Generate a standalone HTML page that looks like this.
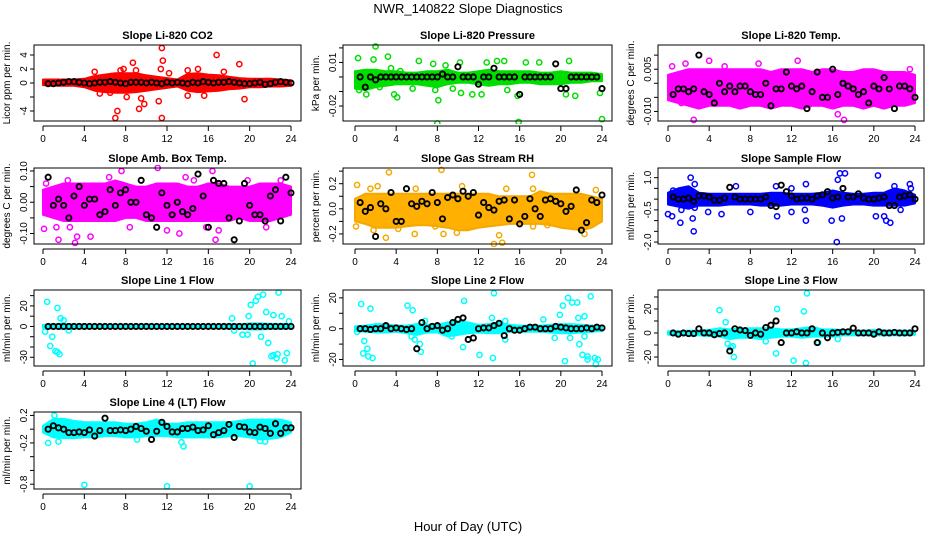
<!DOCTYPE html>
<html><head><meta charset="utf-8"><style>
html,body{margin:0;padding:0;background:#fff;}
svg{display:block;font-family:"Liberation Sans",Arial,sans-serif;}
</style></head><body>
<svg id="chart" width="936" height="540" viewBox="0 0 936 540">
<text x="468" y="13" text-anchor="middle" font-size="13">NWR_140822  Slope Diagnostics</text>
<text x="468" y="531" text-anchor="middle" font-size="13">Hour of Day (UTC)</text>
</svg>
<script>
const xTicks=[0,4,8,12,16,20,24];
const bandHours=[0,1,2,3,4,5,6,7,8,9,10,11,12,13,14,15,16,17,18,19,20,21,22,23,24];
const blackHours=[0.5,1,1.5,2,2.5,3,3.5,4,4.5,5,5.5,6,6.5,7,7.5,8,8.5,9,9.5,10,10.5,11,11.5,12,12.5,13,13.5,14,14.5,15,15.5,16,16.5,17,17.5,18,18.5,19,19.5,20,20.5,21,21.5,22,22.5,23,23.5,24];

// Panel 1 CO2
const co2Ticks=[4,2,0,-2,-4];
const co2Labels=["4","2","0","","-4"];
const co2Upper=[0.5,0.5,0.5,0.5,0.6,1.0,1.2,1.4,1.4,1.4,1.1,0.9,0.7,0.5,1.3,1.4,1.2,1.1,0.9,0.7,0.6,0.6,0.6,0.5,0.4];
const co2Lower=[-0.3,-0.4,-0.4,-0.4,-0.6,-1.1,-1.3,-1.4,-1.4,-1.3,-1.1,-0.9,-0.7,-0.5,-1.1,-1.3,-1.2,-1.1,-0.9,-0.8,-0.6,-0.6,-0.5,-0.5,-0.4];
const co2Out=[[5,1.6],[7,-5],[7.2,-4],[7.5,1.8],[7.8,2],[8.1,-2],[8.7,2.9],[9,1.8],[9.3,-3.7],[9.5,-2.2],[9.8,-3],[11.2,-2.6],[11.5,5],[11.6,3.2],[11.5,-5],[11.4,2],[14,1.8],[14,-1.8],[15,2],[15.6,-1.8],[16.8,4],[19,2.7],[19.5,-2.3],[17.5,1.6],[5.5,-1.5],[6.5,-1.4],[12.2,1.4]];
const co2Black=[-0.1,-0.1,0,0.1,0.2,0.2,0.1,0,-0.1,0,0.1,0.1,0.2,0.1,0,-0.1,0.1,0.1,0.1,0,0.1,0,-0.1,0.1,0,0.1,0,-0.1,0.1,0,0.2,0.1,0,0.1,0.1,0.2,0.1,0,-0.1,-0.1,0,0.1,-0.2,-0.1,0.1,0.2,0.1,0];

// Panel 2 Pressure
const presTicks=[0.02,0.01,0,-0.01,-0.02];
const presLabels=["","0.01","","","-0.02"];
const presUpper=[0.004,0.005,0.005,0.004,0.004,0.003,0.003,0.004,0.004,0.005,0.003,0.003,0.004,0.005,0.004,0.004,0.004,0.004,0.003,0.003,0.004,0.003,0.003,0.003,0.002];
const presLower=[-0.008,-0.009,-0.007,-0.006,-0.005,-0.005,-0.005,-0.006,-0.007,-0.005,-0.004,-0.004,-0.005,-0.006,-0.005,-0.005,-0.004,-0.004,-0.005,-0.005,-0.005,-0.004,-0.004,-0.003,-0.003];
const presOut=[[0.3,0.013],[0.4,-0.009],[1.1,-0.012],[1.8,0.012],[2,0.021],[2.4,-0.007],[3.2,0.014],[3.5,0.006],[3.8,-0.012],[4.1,-0.014],[4.4,0.004],[5.6,-0.008],[6.2,0.011],[7.6,0.009],[7.8,-0.009],[8,-0.032],[8.1,-0.016],[8.8,0.008],[9.5,-0.008],[10.2,0.010],[10.3,-0.011],[11.4,-0.012],[12.3,-0.012],[12.8,0.010],[13.8,0.011],[14.5,0.011],[14.8,-0.009],[15.8,-0.013],[15.9,-0.031],[16.6,0.010],[17.9,0.010],[20.5,-0.012],[20.8,0.011],[21.4,-0.013],[23.8,-0.011],[24,-0.029]];
const presBlack=[0,-0.007,0,-0.002,0,0,0,0,0,0,0,0,0,0,0,0,0.002,0,0,0.007,0,0,0,-0.005,0,0,0.006,0,0,0,0,-0.012,0,0,0,0,0,0,0.009,-0.008,-0.008,0,0,0,0,0,0,-0.008];

// Panel 3 Li-820 Temp
const tempTicks=[0.01,0.005,0,-0.005,-0.01];
const tempLabels=["","0.005","","","-0.010"];
const tempUpper=[0.003,0.004,0.005,0.005,0.005,0.005,0.005,0.005,0.005,0.005,0.004,0.005,0.005,0.005,0.004,0.005,0.005,0.004,0.004,0.005,0.005,0.004,0.004,0.004,0.003];
const tempLower=[-0.006,-0.007,-0.008,-0.009,-0.008,-0.008,-0.008,-0.009,-0.008,-0.008,-0.009,-0.008,-0.008,-0.009,-0.008,-0.008,-0.009,-0.008,-0.008,-0.009,-0.008,-0.009,-0.008,-0.008,-0.007];
const tempOut=[[0.4,0.006],[1.3,-0.007],[1.7,0.007],[2.5,-0.013],[3.2,-0.007],[4,0.008],[5.5,0.006],[7.2,-0.006],[8.8,0.007],[10.8,-0.006],[11.7,-0.007],[12.6,0.008],[16.5,-0.011],[16.8,-0.005],[17.1,-0.013],[18.4,-0.007],[20.8,-0.008],[23.5,0.005]];
const tempBlack=[-0.004,-0.002,-0.002,-0.003,-0.002,0.01,-0.003,-0.004,-0.007,0.000,-0.003,-0.001,-0.003,-0.001,-0.001,-0.003,-0.004,-0.004,0.000,-0.008,-0.002,-0.002,0.004,-0.001,-0.002,-0.001,-0.009,-0.003,0.004,-0.005,-0.005,0.005,-0.004,0.000,-0.001,-0.002,-0.004,-0.003,-0.007,-0.001,-0.002,0.002,-0.002,-0.009,-0.001,-0.001,-0.002,-0.005];

// Panel 4 Amb Box Temp
const ambTicks=[0.1,0.05,0,-0.05,-0.1];
const ambLabels=["0.10","","0.00","","-0.10"];
const ambUpper=[0.04,0.05,0.06,0.06,0.06,0.06,0.06,0.07,0.06,0.05,0.05,0.06,0.06,0.06,0.05,0.05,0.06,0.06,0.05,0.05,0.05,0.06,0.06,0.06,0.05];
const ambLower=[-0.04,-0.05,-0.06,-0.06,-0.06,-0.06,-0.06,-0.06,-0.05,-0.05,-0.06,-0.06,-0.06,-0.06,-0.06,-0.06,-0.06,-0.06,-0.06,-0.05,-0.06,-0.06,-0.06,-0.05,-0.04];
const ambOut=[[0.1,-0.085],[0.3,0.06],[1.3,-0.08],[1.5,-0.12],[2.4,0.07],[2.6,-0.08],[3.1,-0.13],[3.3,-0.11],[4.6,-0.11],[6.4,0.08],[7.6,0.1],[8.4,-0.08],[11.1,0.11],[12,-0.09],[13.2,-0.1],[13.8,0.08],[14.6,0.07],[15.8,-0.08],[16.4,0.1],[16.7,-0.12],[17,-0.09],[19.8,0.07],[21.6,-0.08],[23,0.07]];
const ambBlack=[0.08,-0.01,0.01,-0.01,-0.05,0.02,0.05,-0.01,0.01,0.01,-0.04,-0.03,0.04,-0.01,0.03,0.04,0,0,0.07,-0.04,-0.05,-0.08,0.03,-0.01,-0.04,0,-0.03,-0.04,-0.02,0.09,0.02,-0.08,0.07,0.06,0.06,-0.05,-0.12,-0.06,0.06,-0.01,-0.04,-0.04,-0.06,0.02,0.04,-0.06,0.08,0.03];

// Panel 5 Gas Stream RH
const rhTicks=[0.3,0.2,0.1,0,-0.1,-0.2];
const rhLabels=["","0.2","","0.0","","-0.2"];
const rhUpper=[0.08,0.12,0.12,0.12,0.12,0.12,0.12,0.12,0.12,0.12,0.12,0.12,0.12,0.12,0.1,0.1,0.1,0.1,0.14,0.12,0.12,0.12,0.12,0.1,0.08];
const rhLower=[-0.1,-0.12,-0.15,-0.15,-0.15,-0.14,-0.13,-0.13,-0.14,-0.15,-0.17,-0.17,-0.15,-0.14,-0.13,-0.12,-0.12,-0.12,-0.12,-0.13,-0.15,-0.16,-0.17,-0.15,-0.1];
const rhOut=[[0.2,0.19],[0.1,-0.14],[1.5,0.16],[1.8,-0.17],[2.2,0.18],[3,-0.23],[3.3,0.29],[4.2,-0.16],[5.8,-0.2],[5.9,0.16],[7.8,-0.14],[8.4,0.31],[8.6,-0.2],[9.9,-0.19],[10.4,0.18],[13.5,-0.28],[14,-0.21],[14.3,-0.27],[14.7,0.16],[17.2,0.27],[17.3,0.16],[17.3,-0.14],[18.7,-0.13],[22.3,-0.2],[23.4,0.15]];
const rhBlack=[0.05,-0.02,0.01,-0.22,0.04,0.0,0.13,-0.1,-0.1,0.16,0.04,0.02,0.06,0.04,0.13,0.05,-0.08,0.09,0.11,0.08,0.14,0.1,0.13,-0.05,0.05,0.01,-0.01,0.06,0.07,-0.08,0.07,-0.12,-0.06,0.08,0.0,-0.06,0.07,0.08,0.06,0.04,-0.02,0.02,0.15,-0.17,-0.11,0.07,0.05,0.11];

// Panel 6 Sample Flow
const flowTicks=[1.0,0.5,0,-0.5,-1.0,-1.5,-2.0];
const flowLabels=["1.0","","","-0.5","","","-2.0"];
const flowUpper=[0.3,0.5,0.6,0.3,0.25,0.25,0.25,0.25,0.25,0.25,0.3,0.3,0.25,0.25,0.25,0.3,0.4,0.3,0.25,0.25,0.3,0.3,0.5,0.4,0.2];
const flowLower=[-0.25,-0.35,-0.45,-0.3,-0.3,-0.3,-0.25,-0.25,-0.25,-0.3,-0.3,-0.3,-0.25,-0.25,-0.25,-0.3,-0.4,-0.3,-0.25,-0.25,-0.3,-0.3,-0.3,-0.3,-0.2];
const flowOut=[[0,-0.7],[0.4,-0.8],[0.5,0.4],[1.2,-1.1],[1.3,-0.5],[2.2,1.0],[2.4,-0.9],[2.5,-1.5],[2.6,0.7],[2.6,-0.4],[3.9,-0.6],[5.2,-0.7],[6.6,0.6],[8,-0.6],[10.6,-0.8],[10.5,0.6],[12,0.5],[12,-0.6],[13.3,-0.5],[13.4,-1.0],[13.4,0.7],[15.9,-1.0],[16.4,-2.0],[16.5,0.9],[16.7,1.2],[16.9,-0.9],[17.2,1.2],[20.2,-0.8],[20.4,1.1],[21,-0.8],[21.2,-1.0],[21.6,-1.1],[22,0.6],[22.6,-0.5],[23.5,0.7],[23.6,0.5]];
const flowBlack=[0.1,0.0,0.0,0.05,-0.1,0.15,0.15,0.1,-0.05,-0.05,0.05,0.55,0.1,0.0,0.0,0.0,0.0,0.0,0.1,-0.3,-0.35,0.65,0.35,0.15,0.0,0.05,0.05,0.0,0.15,0.2,0.35,0.05,0.1,0.5,0.1,0.1,0.25,0.05,0.0,0.0,0.05,0.1,-0.3,-0.3,0.1,0.15,0.2,0.0];

// Panel 7 Line 1 Flow
const l1Ticks=[30,20,10,0,-10,-20,-30];
const l1Labels=["","20","","0","","","-30"];
const l1Upper=[1.5,2,2.5,2,2,1.5,1.5,1.5,1.5,1.5,2,1.5,1.5,1.5,1.5,1.5,1.5,1.5,2,2,3,3,2.5,2.5,2];
const l1Lower=[-1.5,-2,-2.5,-2,-2,-1.5,-1.5,-1.5,-1.5,-1.5,-1.5,-1.5,-1.5,-1.5,-1.5,-1.5,-1.5,-1.5,-2,-2,-3,-3,-2.5,-2.5,-2];
const l1Out=[[0.2,-5],[0.4,24],[0.7,-19],[0.9,-10],[1.2,-24],[1.4,-25],[1.6,-27],[1.4,18],[1.7,8],[2,6],[2.5,-4],[18.3,8],[18.5,-4],[19.3,-8],[19.8,-8],[19.9,10],[20.1,21],[20.3,-36],[20.6,25],[20.8,29],[21.1,-10],[21.3,31],[21.6,14],[21.8,-16],[22.1,-29],[22.3,-28],[22.3,11],[22.6,-31],[22.7,-27],[22.8,33],[23.1,10],[23.4,-33],[23.6,-26],[23.8,5]];
const l1Black=[0,0,0,0,0,0,0,0,0,0,0,0,0,0,0,0,0,0,0,0,0,0,0,0,0,0,0,0,0,0,0,0,0,0,0,0,0,0,0,0,0,0,0,0,0,0,0,0];

// Panel 8 Line 2 Flow
const l2Ticks=[20,10,0,-10,-20];
const l2Labels=["20","","0","","-20"];
const l2Upper=[1.5,2,3,3,2,2,3,2.5,2.5,4,5,4,2.5,3,4,2.5,2,2,2,2.5,3,3,2.5,2,1.5];
const l2Lower=[-1.5,-2,-2.5,-2.5,-2,-3,-4,-2.5,-2.5,-5,-4,-3,-2.5,-3,-3,-2,-2,-2,-2,-2.5,-3,-3,-2.5,-2,-1.5];
const l2Out=[[0.2,-2],[0.6,16],[0.8,-16],[0.9,-8],[1.2,-13],[1.3,-18],[1.5,13],[1.7,-19],[5.1,15],[5.5,-5],[5.6,12],[5.8,-7],[6.3,-10],[6.4,-15],[6.8,5],[9.4,-5],[10.5,-12],[10.6,18],[12.1,-17],[13.3,7],[13.4,-19],[13.5,23],[14.6,5],[14.6,-7],[18.3,6],[19.4,-6],[19.9,9],[20.2,15],[20.4,-21],[20.7,20],[20.9,-6],[21.1,17],[21.6,17],[21.7,7],[21.8,-10],[22.1,-17],[22.3,8],[22.3,-5],[22.6,-18],[22.6,-20],[22.9,21],[23.3,-19],[23.4,-23],[23.6,-20]];
const l2Black=[0,0,-0.5,0,0,2,0,0.5,0,-0.5,0,-13,4,0,1.5,2,-1,0,4,6,7,-7,-6,0,0.5,0.5,2,3.5,-4.5,0,-1,-1,0,1,1,0,0,0,1.5,1,0.5,0,0,0,0.5,0,1,0.5];

// Panel 9 Line 3 Flow
const l3Ticks=[30,20,10,0,-10,-20];
const l3Labels=["","20","","0","","-20"];
const l3Upper=[1.5,1.5,2,2,2.5,4,3,3.5,4,4,4,3,3,4,5,3,3,2.5,2,2,2.5,2,2,2,1.5];
const l3Lower=[-1.5,-1.5,-2,-2,-2.5,-3,-5,-4,-4,-5,-4,-3,-3,-4,-3,-3,-3,-2,-2,-2,-2,-2,-2,-2,-1.5];
const l3Out=[[5,19],[5.6,9],[5.8,-9],[6.1,-12],[6.3,-11],[6.4,-20],[9.5,-7],[10.6,20],[10.5,-17],[12.2,-23],[13.2,18],[13.4,-25],[13.5,33],[14.6,-8],[16.5,-5]];
const l3Black=[0,-1,0,-0.5,-0.5,3.5,0,0,-1.5,-0.5,0,-15,3.5,2.5,2,-2,0,-1,4.5,6.5,10,-8,0,0,1,0,0,3.5,-8,0,-4,0,0.5,1,1,4,0,0,0,-1,1,0,0,0.5,0,0,0,3.5];

// Panel 10 Line 4 (LT) Flow
const l4Ticks=[0.2,0,-0.2,-0.4,-0.6,-0.8];
const l4Labels=["0.2","","-0.2","","","-0.8"];
const l4Upper=[0.05,0.15,0.15,0.12,0.1,0.1,0.1,0.1,0.08,0.08,0.1,0.14,0.08,0.08,0.1,0.1,0.1,0.1,0.1,0.12,0.14,0.14,0.14,0.14,0.1];
const l4Lower=[-0.05,-0.12,-0.13,-0.13,-0.12,-0.12,-0.1,-0.1,-0.12,-0.12,-0.1,-0.1,-0.1,-0.12,-0.12,-0.12,-0.12,-0.12,-0.1,-0.1,-0.12,-0.15,-0.14,-0.12,-0.05];
const l4Out=[[0.5,-0.2],[1.1,0.2],[1.5,-0.18],[4,-0.81],[9.1,-0.15],[12,-0.83],[13.4,-0.19],[13.6,-0.25],[20,-0.83],[21,-0.17],[21.5,-0.18]];
const l4Black=[0,0.05,0.02,0,-0.05,-0.05,-0.04,-0.05,-0.01,-0.1,-0.02,0.16,-0.02,-0.02,-0.01,-0.02,0,0.04,0.01,-0.03,-0.15,-0.03,0.1,0.04,-0.04,-0.04,0.01,0.01,0.03,-0.02,-0.01,0.05,-0.08,-0.05,-0.02,0.07,-0.12,0.04,0.03,-0.04,-0.05,0.03,0.01,-0.06,0.08,-0.06,0.02,0.02];

const panels=[
 {name:"co2",title:"Slope Li-820 CO2",ylab:"Licor ppm per min.",ticks:co2Ticks,labels:co2Labels,up:co2Upper,lo:co2Lower,out:co2Out,blk:co2Black,col:"#ff0000",ymin:-5.43,ymax:5.43,L:34,R:301,T:45,B:121,x0:43,x1:291},
 {name:"pressure",title:"Slope Li-820 Pressure",ylab:"kPa per min.",ticks:presTicks,labels:presLabels,up:presUpper,lo:presLower,out:presOut,blk:presBlack,col:"#00dd00",ymin:-0.0303,ymax:0.022,L:343,R:612,T:45,B:121,x0:355,x1:602},
 {name:"li820-temp",title:"Slope Li-820 Temp.",ylab:"degrees C per min.",ticks:tempTicks,labels:tempLabels,up:tempUpper,lo:tempLower,out:tempOut,blk:tempBlack,col:"#ff00ff",ymin:-0.0134,ymax:0.0136,L:658,R:924,T:45,B:121,x0:668,x1:915},
 {name:"amb-box-temp",title:"Slope Amb. Box Temp.",ylab:"degrees C per min.",ticks:ambTicks,labels:ambLabels,up:ambUpper,lo:ambLower,out:ambOut,blk:ambBlack,col:"#ff00ff",ymin:-0.1335,ymax:0.1095,L:34,R:301,T:168,B:244,x0:43,x1:291},
 {name:"gas-stream-rh",title:"Slope Gas Stream RH",ylab:"percent per min.",ticks:rhTicks,labels:rhLabels,up:rhUpper,lo:rhLower,out:rhOut,blk:rhBlack,col:"#f5a800",ymin:-0.28,ymax:0.325,L:343,R:612,T:168,B:244,x0:355,x1:602},
 {name:"sample-flow",title:"Slope Sample Flow",ylab:"ml/min per min.",ticks:flowTicks,labels:flowLabels,up:flowUpper,lo:flowLower,out:flowOut,blk:flowBlack,col:"#0000ff",ymin:-2.09,ymax:1.45,L:658,R:924,T:168,B:244,x0:668,x1:915},
 {name:"line1-flow",title:"Slope Line 1 Flow",ylab:"ml/min per min.",ticks:l1Ticks,labels:l1Labels,up:l1Upper,lo:l1Lower,out:l1Out,blk:l1Black,col:"#00ffff",ymin:-38.5,ymax:35.5,L:34,R:301,T:290,B:366,x0:43,x1:291},
 {name:"line2-flow",title:"Slope Line 2 Flow",ylab:"ml/min per min.",ticks:l2Ticks,labels:l2Labels,up:l2Upper,lo:l2Lower,out:l2Out,blk:l2Black,col:"#00ffff",ymin:-24.2,ymax:25.1,L:343,R:612,T:290,B:366,x0:355,x1:602},
 {name:"line3-flow",title:"Slope Line 3 Flow",ylab:"ml/min per min.",ticks:l3Ticks,labels:l3Labels,up:l3Upper,lo:l3Lower,out:l3Out,blk:l3Black,col:"#00ffff",ymin:-27.5,ymax:35.8,L:658,R:924,T:290,B:366,x0:668,x1:915},
 {name:"line4-flow",title:"Slope Line 4 (LT) Flow",ylab:"ml/min per min.",ticks:l4Ticks,labels:l4Labels,up:l4Upper,lo:l4Lower,out:l4Out,blk:l4Black,col:"#00ffff",ymin:-0.87,ymax:0.25,L:34,R:301,T:412,B:489,x0:43,x1:291}
];

const NS="http://www.w3.org/2000/svg";
const svg=document.getElementById("chart");
function mk(tag,attrs,parent){const e=document.createElementNS(NS,tag);for(const k in attrs)e.setAttribute(k,attrs[k]);(parent||svg).appendChild(e);return e;}

panels.forEach((p,pi)=>{
 const g=mk("g",{});
 
 
 const xs=h=>p.x0+(h/24)*(p.x1-p.x0);
 const ys=v=>p.B-(v-p.ymin)/(p.ymax-p.ymin)*(p.B-p.T);
 const cid="clip"+pi;
 const cp=mk("clipPath",{id:cid},g);
 mk("rect",{x:p.L-3,y:p.T-3,width:p.R-p.L+6,height:p.B-p.T+6},cp);
 const pts=mk("g",{"clip-path":"url(#"+cid+")"},g);
 let d="";
 bandHours.forEach((h,i)=>{d+=(i?"L":"M")+xs(h).toFixed(1)+","+ys(p.up[i]).toFixed(1);});
 for(let i=bandHours.length-1;i>=0;i--){d+="L"+xs(bandHours[i]).toFixed(1)+","+ys(p.lo[i]).toFixed(1);}
 const band=mk("path",{d:d+"Z",fill:p.col,stroke:p.col,"stroke-width":2,"stroke-linejoin":"round"},pts);
 
 
 if(p.name==="gas-stream-rh"){band.setAttribute('fill','#ffb000');}
 p.out.forEach(o=>{
  const c=mk("circle",{cx:xs(o[0]),cy:ys(o[1]),r:2.6,fill:"none",stroke:p.col,"stroke-width":1.5},pts);
  
  
 });
 blackHours.forEach((h,i)=>{
  const c=mk("circle",{cx:xs(h),cy:ys(p.blk[i]),r:2.6,fill:"none",stroke:"#000","stroke-width":1.9},pts);
  
  
 });
 const box=mk("rect",{x:p.L,y:p.T,width:p.R-p.L,height:p.B-p.T,fill:"none",stroke:"#000","stroke-width":1},g);
 
 
 const ax=mk("g",{},g);
 
 
 mk("line",{x1:xs(0),x2:xs(24),y1:p.B+5,y2:p.B+5,stroke:"#000"},ax);
 xTicks.forEach(t=>{
  mk("line",{x1:xs(t),x2:xs(t),y1:p.B+5,y2:p.B+10,stroke:"#000"},ax);
  const tx=mk("text",{x:xs(t),y:p.B+21,"text-anchor":"middle","font-size":10},ax);
  tx.textContent=t;
 });
 const ay=mk("g",{},g);
 
 
 mk("line",{x1:p.L,x2:p.L,y1:ys(p.ticks[0]),y2:ys(p.ticks[p.ticks.length-1]),stroke:"#000"},ay);
 p.ticks.forEach((t,i)=>{
  const y=ys(t);
  mk("line",{x1:p.L-4,x2:p.L,y1:y,y2:y,stroke:"#000"},ay);
  if(p.labels[i]){
   const tx=mk("text",{x:p.L-7,y:y,"text-anchor":"middle","font-size":10,transform:"rotate(-90 "+(p.L-7)+" "+y+")"},ay);
   tx.textContent=p.labels[i];
  }
 });
 const yl=(p.T+p.B)/2, xl=p.L-24;
 const ylab=mk("text",{x:xl,y:yl,"text-anchor":"middle","font-size":10,transform:"rotate(-90 "+xl+" "+yl+")"},g);
 ylab.textContent=p.ylab;
 
 
 const ti=mk("text",{x:(p.L+p.R)/2,y:p.T-6,"text-anchor":"middle","font-size":11,"font-weight":"bold"},g);
 ti.textContent=p.title;
 
 
});
</script>
</body></html>
